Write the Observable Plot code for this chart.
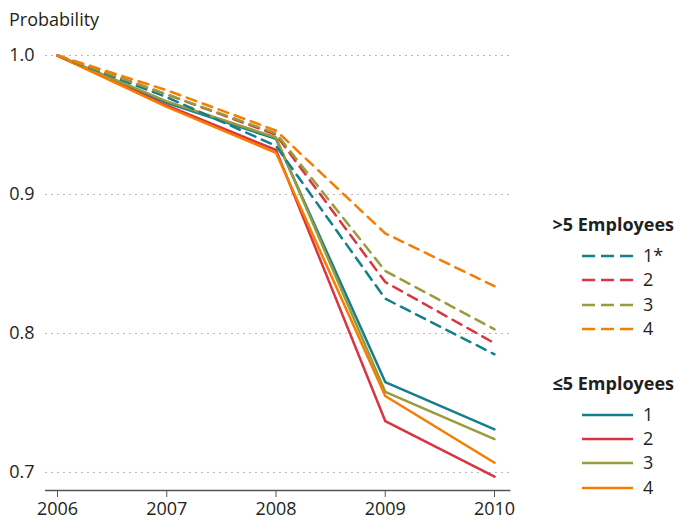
<!DOCTYPE html>
<html><head><meta charset="utf-8">
<script src="https://cdn.jsdelivr.net/npm/d3@7"></script>
<script src="https://cdn.jsdelivr.net/npm/@observablehq/plot@0.6"></script>
<style>
body{margin:0;background:#fff;font-family:"Open Sans",sans-serif;color:#231f20;}
#wrap{position:relative;width:678px;height:520px;}
.abs{position:absolute;white-space:nowrap;line-height:1;}
</style>
</head><body><div id="wrap"></div>
<script>
const years = [2006, 2007, 2008, 2009, 2010];
const groups = [">5 Employees", "≤5 Employees"];
const seriesKeys = ["1", "2", "3", "4"];
const legendLabels = [["1*", "2", "3", "4"], ["1", "2", "3", "4"]];
const colors = ["#137f8d", "#d8353f", "#9a9b3d", "#f57d00"];
const yTicks = [0.7, 0.8, 0.9, 1.0];

// >5 Employees (dashed)
const gt5_1 = [1.0, 0.970, 0.935, 0.825, 0.785];
const gt5_2 = [1.0, 0.972, 0.943, 0.837, 0.793];
const gt5_3 = [1.0, 0.972, 0.944, 0.845, 0.803];
const gt5_4 = [1.0, 0.975, 0.946, 0.872, 0.834];
// ≤5 Employees (solid)
const le5_1 = [1.0, 0.966, 0.940, 0.765, 0.731];
const le5_2 = [1.0, 0.964, 0.932, 0.737, 0.697];
const le5_3 = [1.0, 0.967, 0.941, 0.758, 0.724];
const le5_4 = [1.0, 0.963, 0.930, 0.755, 0.707];

const seriesData = [[gt5_1, gt5_2, gt5_3, gt5_4], [le5_1, le5_2, le5_3, le5_4]];
const rows = [];
groups.forEach((g, gi) => seriesKeys.forEach((s, si) =>
  years.forEach((yr, i) => rows.push({group: g, series: s, year: yr, value: seriesData[gi][si][i]}))));

const xLo = 2005.89, xHi = 2010.15, yBase = 0.687;

const chart = Plot.plot({
  width: 678, height: 520,
  marginLeft: 57, marginRight: 184, marginTop: 55, marginBottom: 30,
  style: {fontFamily: '"Open Sans", sans-serif', color: "#231f20", background: "#fff"},
  x: {domain: [2006, 2010]},
  y: {domain: [yBase, 1.0]},
  color: {domain: seriesKeys, range: colors},
  marks: [
    Plot.ruleY(yTicks, {x1: xLo, x2: xHi, stroke: "#b5b5b5", strokeWidth: 1, strokeDasharray: "2,4"}),
    Plot.ruleY([yBase], {x1: xLo, x2: xHi, stroke: "#555", strokeWidth: 1.5}),
    Plot.axisX({ticks: years, tickFormat: d => String(d), tickSize: 7, tickPadding: 5, fontSize: 18, label: null, stroke: "#555"}),
    Plot.axisY({ticks: yTicks, tickFormat: d => d.toFixed(1), tickSize: 0, tickPadding: 23, fontSize: 18, label: null}),
    Plot.line(rows.filter(d => d.group === groups[1]), {x: "year", y: "value", z: "series", stroke: "series", strokeWidth: 2.5}),
    Plot.line(rows.filter(d => d.group === groups[0]), {x: "year", y: "value", z: "series", stroke: "series", strokeWidth: 2.5, strokeDasharray: "10,7"})
  ]
});
const wrap = document.getElementById("wrap");
wrap.appendChild(chart);

function addText(txt, x, yc, opts = {}) {
  const d = document.createElement("div");
  d.className = "abs";
  d.textContent = txt;
  d.style.fontSize = (opts.size || 18) + "px";
  if (opts.bold) d.style.fontWeight = "bold";
  if (opts.right != null) d.style.right = opts.right + "px"; else d.style.left = x + "px";
  d.style.top = (yc - (opts.size || 18) * 0.55) + "px";
  wrap.appendChild(d);
}
addText("Probability", 9, 20, {size: 18});

const titleY = [225, 384];
const rowY = [[256, 280, 305, 329], [415, 439, 463, 488]];
groups.forEach((g, gi) => {
  addText(g, null, titleY[gi], {bold: true, right: 4, size: 18});
  legendLabels[gi].forEach((lab, si) => {
    const svg = document.createElementNS("http://www.w3.org/2000/svg", "svg");
    svg.setAttribute("width", 52); svg.setAttribute("height", 6);
    svg.style.position = "absolute"; svg.style.left = "582px"; svg.style.top = (rowY[gi][si] - 3) + "px";
    const ln = document.createElementNS("http://www.w3.org/2000/svg", "line");
    ln.setAttribute("x1", 0); ln.setAttribute("x2", 51); ln.setAttribute("y1", 3); ln.setAttribute("y2", 3);
    ln.setAttribute("stroke", colors[si]); ln.setAttribute("stroke-width", 2.5);
    if (gi === 0) ln.setAttribute("stroke-dasharray", "13,6");
    svg.appendChild(ln);
    wrap.appendChild(svg);
    addText(lab, 643, rowY[gi][si], {size: 18});
  });
});
</script>
</body></html>
